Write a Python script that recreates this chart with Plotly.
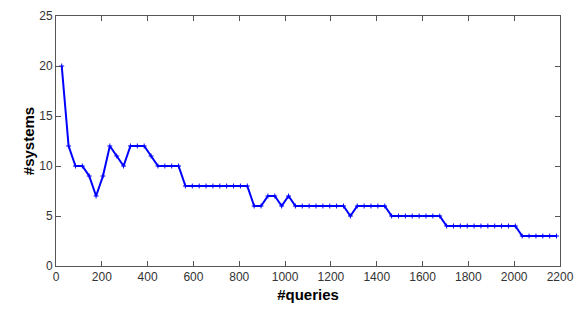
import plotly.graph_objects as go

queries = [25 + 30 * i for i in range(73)]
systems = (
    [20, 12, 10, 10, 9, 7, 9, 12, 11, 10, 12, 12, 12, 11, 10, 10, 10, 10]
    + [8] * 10
    + [6, 6, 7, 7, 6, 7, 6]
    + [6] * 7
    + [5]
    + [6] * 5
    + [5] * 8
    + [4] * 11
    + [3] * 6
)
x_ticks = list(range(0, 2201, 200))
y_ticks = [0, 5, 10, 15, 20, 25]

fig = go.Figure()
fig.add_trace(go.Scatter(
    x=queries[:len(systems)], y=systems, mode="lines+markers",
    line=dict(color="#0000ff", width=2),
    marker=dict(symbol="cross-thin", size=3.5, color="#0000ff",
                line=dict(color="#0000ff", width=1)),
    showlegend=False,
))

axis_common = dict(
    showgrid=False, zeroline=False, showline=True, linecolor="#555555",
    linewidth=1, mirror="ticks", ticks="inside", ticklen=5,
    tickcolor="#555555", tickfont=dict(family="Liberation Sans, Arial", size=12, color="#333333"),
)
fig.update_xaxes(range=[0, 2200], tickvals=x_ticks, automargin=False, **axis_common,
                 title=dict(text="<b>#queries</b>", standoff=6,
                            font=dict(family="Liberation Sans, Arial", size=15, color="#000000")))
fig.update_yaxes(range=[0, 25], tickvals=y_ticks, automargin=False, **axis_common,
                 title=dict(text="<b>#systems</b>", standoff=0,
                            font=dict(family="Liberation Sans, Arial", size=15, color="#000000")))
fig.update_layout(
    width=578, height=301,
    margin=dict(l=48, r=26, t=8, b=43),
    plot_bgcolor="white", paper_bgcolor="white",
)
fig.write_html("out.html")
